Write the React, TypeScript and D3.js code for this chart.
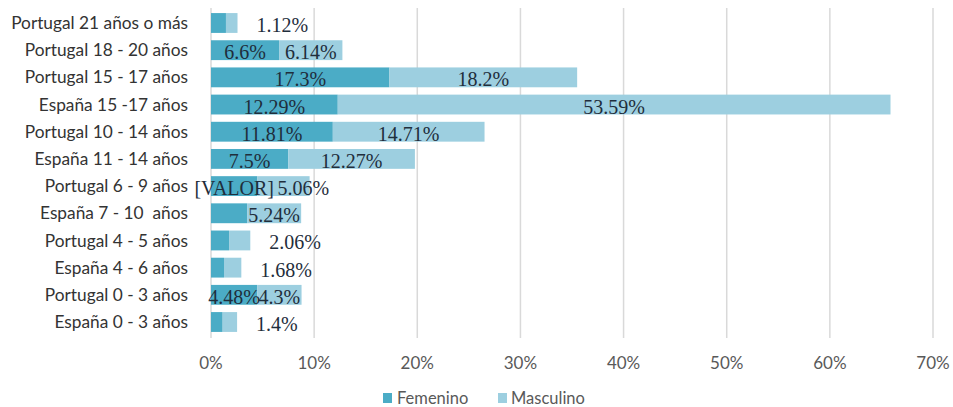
import { useEffect } from 'react';
import * as d3 from 'd3';

const categories = [
  'Portugal 21 años o más',
  'Portugal 18 - 20 años',
  'Portugal 15 - 17 años',
  'España 15 -17 años',
  'Portugal 10 - 14 años',
  'España 11 - 14 años',
  'Portugal 6 - 9 años',
  'España 7 - 10  años',
  'Portugal 4 - 5 años',
  'España 4 - 6 años',
  'Portugal 0 - 3 años',
  'España 0 - 3 años',
];

// bar values (%)
const femenino = [1.45, 6.6, 17.3, 12.29, 11.81, 7.5, 4.5, 3.5, 1.75, 1.26, 4.48, 1.13];
const masculino = [1.12, 6.14, 18.2, 53.59, 14.71, 12.27, 5.06, 5.24, 2.06, 1.68, 4.3, 1.4];

// data labels as shown (null = no label)
const femLabels: (string | null)[] = [null, '6.6%', '17.3%', '12.29%', '11.81%', '7.5%', '[VALOR]', null, null, null, '4.48%', null];
const mascLabels: (string | null)[] = ['1.12%', '6.14%', '18.2%', '53.59%', '14.71%', '12.27%', '5.06%', '5.24%', '2.06%', '1.68%', '4.3%', '1.4%'];
// where the masculino label sits: centred in its segment, past the bar end, or just after the femenino label
const mascPlacement = ['out', 'center', 'center', 'center', 'center', 'center', 'after', 'center', 'out', 'out', 'center', 'out'];

const ticks = [0, 10, 20, 30, 40, 50, 60, 70];

const COLORS = { fem: '#4bacc6', masc: '#9dcfe0', grid: '#d9d9d9', axis: '#595959', label: '#1f2e3c' };

export default function App() {
  useEffect(() => {
    document.body.style.margin = '0';
  }, []);

  const width = 953;
  const height = 407;
  const x = d3.scaleLinear().domain([0, 70]).range([211, 933]);
  const y = d3.scaleBand<string>().domain(categories).range([9.4, 335.6]).paddingInner(0.27).paddingOuter(0.135);
  const bh = y.bandwidth();

  const sansFont = 'Lato, "Open Sans", sans-serif';
  const serifFont = '"Liberation Serif", serif';

  return (
    <svg width={width} height={height} style={{ display: 'block', background: '#fff' }}>
      {/* grid */}
      {ticks.map(t => (
        <line key={t} x1={x(t)} x2={x(t)} y1={8} y2={338} stroke={COLORS.grid} strokeWidth={1.5} />
      ))}
      {ticks.map(t => (
        <text key={'t' + t} x={x(t)} y={363} dy="0.35em" textAnchor="middle" fontFamily={sansFont} fontSize={17} fill={COLORS.axis}>
          {t}%
        </text>
      ))}

      {/* categories */}
      {categories.map(c => (
        <text key={c} x={188} y={(y(c) ?? 0) + bh / 2} dy="0.35em" textAnchor="end" fontFamily={sansFont} fontSize={17.3} fill="#333" style={{ whiteSpace: 'pre' }}>
          {c}
        </text>
      ))}

      {/* bars */}
      {categories.map((c, i) => {
        const y0 = y(c) ?? 0;
        const f1 = x(femenino[i]);
        const m1 = x(femenino[i] + masculino[i]);
        const cy = y0 + bh / 2;
        const fl = femLabels[i];
        const ml = mascLabels[i];
        const pl = mascPlacement[i];
        let mx = (f1 + m1) / 2;
        let anchor: 'middle' | 'start' = 'middle';
        if (pl === 'out') { mx = m1 + 19; anchor = 'start'; }
        if (pl === 'after') { mx = f1 + 20; anchor = 'start'; }
        return (
          <g key={c}>
            <rect x={x(0)} y={y0} width={f1 - x(0)} height={bh} fill={COLORS.fem} />
            <rect x={f1} y={y0} width={m1 - f1} height={bh} fill={COLORS.masc} />
            {fl && (
              <text x={(x(0) + f1) / 2} y={cy + 2} dy="0.35em" textAnchor="middle" fontFamily={serifFont} fontSize={20} fill={COLORS.label}>
                {fl}
              </text>
            )}
            {ml && (
              <text x={mx} y={cy + 2} dy="0.35em" textAnchor={anchor} fontFamily={serifFont} fontSize={20} fill={COLORS.label}>
                {ml}
              </text>
            )}
          </g>
        );
      })}

      {/* legend */}
      <rect x={383} y={393} width={9} height={10} fill={COLORS.fem} />
      <text x={397} y={398} dy="0.35em" fontFamily={sansFont} fontSize={16.5} fill={COLORS.axis}>Femenino</text>
      <rect x={498} y={393} width={9} height={10} fill={COLORS.masc} />
      <text x={511} y={398} dy="0.35em" fontFamily={sansFont} fontSize={16.5} fill={COLORS.axis}>Masculino</text>
    </svg>
  );
}
